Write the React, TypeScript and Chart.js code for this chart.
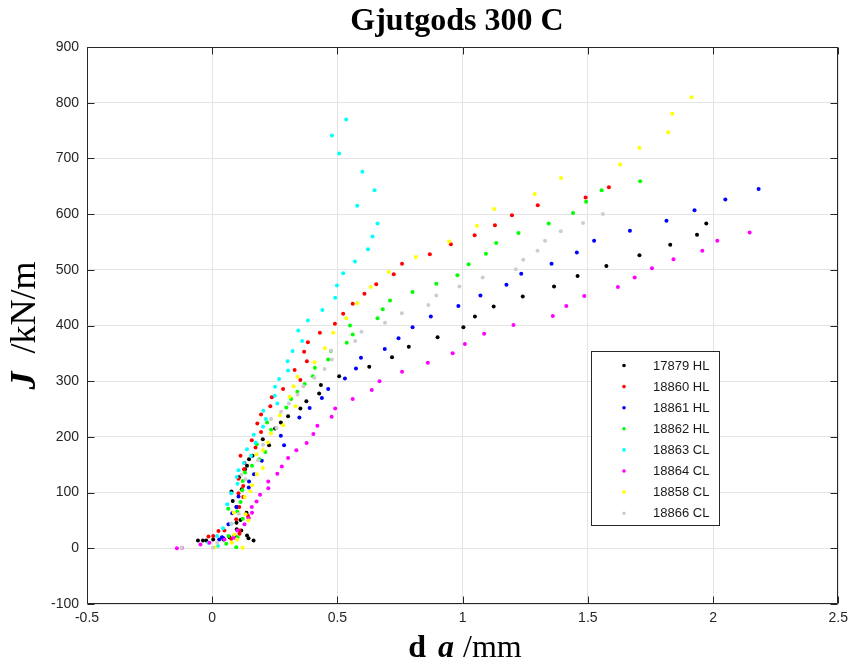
import React, { useEffect, useRef } from "react";
import { Chart, registerables } from "chart.js";

Chart.register(...registerables);

const chartTitle = "Gjutgods 300 C";
const seriesNames = ["17879 HL", "18860 HL", "18861 HL", "18862 HL", "18863 CL", "18864 CL", "18858 CL", "18866 CL"];
const seriesColors = ["#000000", "#ff0000", "#0000ff", "#00ff00", "#00ffff", "#ff00ff", "#ffff00", "#cdcdcd"];

const s17879: [number, number][] = [
  [-0.057, 14], [-0.037, 14], [-0.024, 14], [0.004, 16], [0.045, 16], [0.069, 20], [0.089, 23], [0.098, 34],
  [0.116, 32], [0.139, 23], [0.145, 18], [0.165, 14], [0.097, 46], [0.113, 51], [0.137, 64], [0.097, 74],
  [0.082, 85], [0.077, 102], [0.118, 106], [0.108, 128], [0.131, 142], [0.139, 148], [0.147, 160], [0.161, 166],
  [0.227, 185], [0.202, 196], [0.251, 215], [0.274, 226], [0.303, 237], [0.352, 251], [0.376, 264], [0.427, 278],
  [0.434, 293], [0.507, 309], [0.627, 326], [0.718, 343], [0.785, 362], [0.9, 379], [1.003, 397], [1.049, 416],
  [1.124, 434], [1.24, 452], [1.365, 470], [1.459, 489], [1.574, 507], [1.706, 526], [1.829, 545], [1.936, 563],
  [1.973, 583],
];
const s18860: [number, number][] = [
  [-0.015, 21], [0.004, 22], [0.025, 31], [0.049, 32], [0.076, 17], [0.109, 26], [0.109, 32], [0.096, 52],
  [0.142, 59], [0.145, 55], [0.108, 74], [0.124, 92], [0.105, 99], [0.124, 112], [0.105, 125], [0.127, 142],
  [0.129, 153], [0.113, 166], [0.173, 181], [0.158, 194], [0.195, 209], [0.18, 224], [0.195, 240], [0.232, 255],
  [0.238, 271], [0.283, 286], [0.352, 302], [0.329, 320], [0.378, 336], [0.367, 353], [0.382, 370], [0.43, 387],
  [0.49, 403], [0.523, 421], [0.561, 439], [0.608, 457], [0.655, 474], [0.725, 492], [0.758, 511], [0.869, 528],
  [0.953, 546], [1.048, 562], [1.129, 580], [1.197, 598], [1.3, 616], [1.491, 630], [1.584, 648],
];
const s18861: [number, number][] = [
  [0.028, 16], [0.039, 20], [0.045, 18], [0.065, 43], [0.08, 63], [0.097, 74], [0.105, 93], [0.146, 109],
  [0.147, 120], [0.167, 133], [0.198, 157], [0.287, 185], [0.274, 202], [0.348, 235], [0.389, 252], [0.438, 270],
  [0.463, 286], [0.53, 305], [0.574, 323], [0.594, 342], [0.689, 358], [0.744, 377], [0.8, 397], [0.873, 416],
  [0.983, 435], [1.071, 454], [1.175, 473], [1.234, 493], [1.355, 511], [1.456, 531], [1.525, 552], [1.668, 570],
  [1.814, 588], [1.926, 607], [2.049, 626], [2.182, 645],
];
const s18862: [number, number][] = [
  [0.056, 8], [0.096, 2], [0.065, 22], [0.101, 20], [0.122, 53], [0.1, 66], [0.064, 71], [0.113, 83],
  [0.12, 104], [0.122, 121], [0.131, 136], [0.159, 148], [0.188, 160], [0.212, 173], [0.178, 187], [0.235, 213],
  [0.219, 226], [0.296, 253], [0.315, 268], [0.34, 281], [0.369, 295], [0.402, 309], [0.41, 324], [0.463, 339],
  [0.474, 354], [0.537, 369], [0.561, 384], [0.55, 400], [0.66, 413], [0.681, 429], [0.71, 445], [0.8, 460],
  [0.895, 475], [0.979, 490], [1.024, 510], [1.093, 529], [1.134, 548], [1.223, 566], [1.344, 583], [1.441, 602],
  [1.493, 622], [1.555, 643], [1.709, 659],
];
const s18863: [number, number][] = [
  [-0.015, 10], [0.023, 4], [0.019, 22], [0.043, 36], [0.077, 44], [0.06, 79], [0.076, 99], [0.101, 116],
  [0.098, 128], [0.105, 140], [0.126, 153], [0.155, 166], [0.139, 178], [0.173, 190], [0.166, 204], [0.203, 218],
  [0.214, 232], [0.204, 247], [0.26, 260], [0.25, 274], [0.251, 290], [0.267, 304], [0.303, 319], [0.301, 336],
  [0.321, 354], [0.359, 372], [0.344, 391], [0.382, 409], [0.44, 428], [0.491, 450], [0.498, 472], [0.523, 494],
  [0.57, 515], [0.622, 537], [0.64, 560], [0.66, 583], [0.579, 615], [0.648, 643], [0.6, 676], [0.507, 709],
  [0.478, 741], [0.535, 770],
];
const s18864: [number, number][] = [
  [-0.141, 0], [-0.121, 1], [-0.047, 7], [-0.011, 10], [0.049, 16], [0.086, 19], [0.1, 32], [0.129, 43],
  [0.145, 54], [0.159, 64], [0.158, 74], [0.177, 84], [0.191, 96], [0.224, 108], [0.224, 120], [0.26, 134],
  [0.278, 147], [0.303, 162], [0.336, 176], [0.377, 189], [0.404, 205], [0.42, 220], [0.477, 236], [0.491, 251],
  [0.561, 268], [0.637, 284], [0.668, 300], [0.758, 317], [0.861, 333], [0.96, 350], [1.009, 367], [1.086, 385],
  [1.203, 401], [1.36, 417], [1.414, 435], [1.486, 453], [1.62, 469], [1.687, 486], [1.756, 503], [1.842, 519],
  [1.957, 534], [2.017, 552], [2.146, 567],
];
const s18858: [number, number][] = [
  [0.011, 2], [0.121, 1], [0.078, 10], [0.1, 16], [0.088, 25], [0.145, 50], [0.133, 61], [0.086, 64],
  [0.13, 92], [0.153, 102], [0.159, 113], [0.178, 133], [0.202, 144], [0.177, 169], [0.203, 176], [0.222, 190],
  [0.235, 206], [0.283, 221], [0.27, 239], [0.332, 255], [0.309, 272], [0.325, 291], [0.34, 308], [0.409, 334],
  [0.45, 359], [0.483, 387], [0.535, 413], [0.579, 440], [0.633, 469], [0.705, 496], [0.813, 523], [0.946, 551],
  [1.057, 579], [1.126, 609], [1.288, 636], [1.393, 665], [1.629, 689], [1.706, 719], [1.821, 747], [1.837, 780],
  [1.914, 810],
];
const s18866: [number, number][] = [
  [-0.122, 1], [0.003, 1], [0.02, 10], [0.076, 44], [0.106, 62], [0.133, 124], [0.116, 132], [0.183, 158],
  [0.203, 186], [0.256, 216], [0.235, 232], [0.275, 245], [0.306, 260], [0.341, 276], [0.364, 291], [0.408, 306],
  [0.449, 322], [0.478, 339], [0.475, 355], [0.571, 372], [0.596, 389], [0.69, 405], [0.757, 422], [0.863, 437],
  [0.895, 454], [0.987, 470], [1.08, 486], [1.212, 501], [1.242, 518], [1.299, 534], [1.329, 552], [1.392, 569],
  [1.481, 584], [1.56, 600],
];

const seriesData = [s17879, s18860, s18861, s18862, s18863, s18864, s18858, s18866];
const xTickValues = [-0.5, 0, 0.5, 1, 1.5, 2, 2.5];
const yTickValues = [-100, 0, 100, 200, 300, 400, 500, 600, 700, 800, 900];

const FRAME = "#262626";
const SERIF = '"Liberation Serif", "DejaVu Serif", serif';
const SANS = '"Liberation Sans", Arial, sans-serif';

function drawPieces(ctx: CanvasRenderingContext2D, pieces: [string, string][], cx: number, cy: number) {
  let total = 0;
  const widths = pieces.map(([t, f]) => {
    ctx.font = f;
    const w = ctx.measureText(t).width;
    total += w;
    return w;
  });
  let x = cx - total / 2;
  pieces.forEach(([t, f], i) => {
    ctx.font = f;
    ctx.fillText(t, x, cy);
    x += widths[i];
  });
}

const framePlugin = {
  id: "matlabFrame",
  afterDraw(chart: any) {
    const ctx: CanvasRenderingContext2D = chart.ctx;
    const a = chart.chartArea;
    const xs = chart.scales.x;
    const ys = chart.scales.y;
    ctx.save();
    ctx.strokeStyle = FRAME;
    ctx.lineWidth = 1;
    const L = Math.round(a.left) + 0.5;
    const R = Math.round(a.right) - 0.5;
    const T = Math.round(a.top) + 0.5;
    const B = Math.round(a.bottom) - 0.5;
    ctx.beginPath();
    ctx.moveTo(L, T); ctx.lineTo(R, T); ctx.lineTo(R, B); ctx.lineTo(L, B); ctx.closePath();
    const tl = 7;
    xTickValues.forEach((v) => {
      const p = Math.round(xs.getPixelForValue(v)) + 0.5;
      ctx.moveTo(p, B); ctx.lineTo(p, B - tl);
      ctx.moveTo(p, T); ctx.lineTo(p, T + tl);
    });
    yTickValues.forEach((v) => {
      const p = Math.round(ys.getPixelForValue(v)) + 0.5;
      ctx.moveTo(L, p); ctx.lineTo(L + tl, p);
      ctx.moveTo(R, p); ctx.lineTo(R - tl, p);
    });
    ctx.stroke();

    // title
    ctx.fillStyle = "#000";
    ctx.textBaseline = "middle";
    ctx.textAlign = "left";
    drawPieces(ctx, [[chartTitle, `bold 32px ${SERIF}`]], a.left + 370, 22);

    // x label
    drawPieces(
      ctx,
      [
        ["d", `bold 32px ${SERIF}`],
        ["  ", `24px ${SERIF}`],
        ["a", `italic bold 32px ${SERIF}`],
        [" ", `36px ${SERIF}`],
        ["/mm", `32px ${SERIF}`],
      ],
      a.left + 378,
      649
    );

    // y label
    ctx.save();
    ctx.translate(26, (a.top + a.bottom) / 2);
    ctx.rotate(-Math.PI / 2);
    drawPieces(
      ctx,
      [
        ["J", `italic bold 36px ${SERIF}`],
        ["  /kN/m", `36px ${SERIF}`],
      ],
      0,
      0
    );
    ctx.restore();

    // legend
    const lx = Math.round(a.left) + 504;
    const ly = Math.round(a.top) + 304;
    const lw = 128;
    const lh = 174;
    ctx.fillStyle = "#ffffff";
    ctx.fillRect(lx, ly, lw, lh);
    ctx.strokeStyle = FRAME;
    ctx.strokeRect(lx + 0.5, ly + 0.5, lw, lh);
    ctx.font = `13px ${SANS}`;
    ctx.textBaseline = "middle";
    seriesNames.forEach((name, i) => {
      const cy = ly + 14.5 + i * 21.1;
      ctx.fillStyle = seriesColors[i];
      ctx.beginPath();
      ctx.arc(lx + 33, cy, 1.8, 0, Math.PI * 2);
      ctx.fill();
      ctx.fillStyle = "#1a1a1a";
      ctx.fillText(name, lx + 62, cy + 0.5);
    });
    ctx.restore();
  },
};

export default function App() {
  const ref = useRef<HTMLCanvasElement | null>(null);
  useEffect(() => {
    if (!ref.current) return;
    const n = seriesData.length;
    const chart = new Chart(ref.current, {
      type: "scatter",
      data: {
        datasets: seriesData.map((pts, i) => ({
          label: seriesNames[i],
          data: pts.map(([x, y]) => ({ x, y })),
          backgroundColor: seriesColors[i],
          borderColor: seriesColors[i],
          pointRadius: 2,
          pointBorderWidth: 0,
          pointHoverRadius: 2,
          showLine: false,
          order: n - 1 - i,
        })),
      },
      options: {
        responsive: false,
        animation: false,
        events: [],
        layout: { padding: { top: 47, right: 15, left: 0, bottom: 0 } },
        plugins: { legend: { display: false }, title: { display: false }, tooltip: { enabled: false } },
        scales: {
          x: {
            type: "linear",
            min: -0.5,
            max: 2.5,
            afterBuildTicks: (s: any) => {
              s.ticks = xTickValues.map((v) => ({ value: v }));
            },
            afterFit: (s: any) => {
              s.height = 65;
            },
            ticks: {
              autoSkip: false,
              maxRotation: 0,
              padding: 6,
              color: "#262626",
              font: { family: SANS, size: 14 },
              callback: (v: any) => String(Number(Number(v).toFixed(1))),
            },
            grid: { color: "#e4e4e4", lineWidth: 1, drawTicks: false },
            border: { display: false },
          },
          y: {
            type: "linear",
            min: -100,
            max: 900,
            afterBuildTicks: (s: any) => {
              s.ticks = yTickValues.map((v) => ({ value: v }));
            },
            afterFit: (s: any) => {
              s.width = 87;
            },
            ticks: {
              autoSkip: false,
              padding: 8,
              color: "#262626",
              font: { family: SANS, size: 14 },
              callback: (v: any) => String(v),
            },
            grid: { color: "#e4e4e4", lineWidth: 1, drawTicks: false },
            border: { display: false },
          },
        },
      },
      plugins: [framePlugin],
    });
    return () => chart.destroy();
  }, []);
  return (
    <div style={{ position: "absolute", left: 0, top: 0, width: 854, height: 669, background: "#fff" }}>
      <canvas ref={ref} width={854} height={669} style={{ display: "block", width: 854, height: 669 }} />
    </div>
  );
}
